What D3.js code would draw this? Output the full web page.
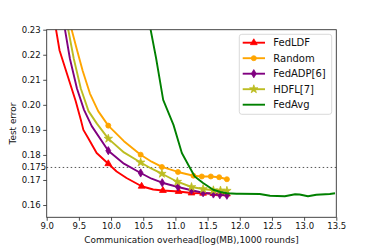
<!DOCTYPE html>
<html>
<head>
<meta charset="utf-8">
<script src="https://cdn.jsdelivr.net/npm/d3@7"></script>
<style>
  body { margin: 0; background: #fff; }
  svg { display: block; font-family: "DejaVu Sans", sans-serif; }
</style>
</head>
<body>
<div id="chart"></div>
<script>
// series names (legend order)
var names = ["FedLDF", "Random", "FedADP[6]", "HDFL[7]", "FedAvg"];

// curves: [overhead, test error]
var fedLDF = [[9.13,0.235],[9.145,0.23],[9.20,0.2217],[9.33,0.2112],[9.45,0.2015],[9.53,0.194],[9.57,0.19],[9.646,0.1867],
  [9.776,0.1808],[9.957,0.1765],[10.087,0.1734],[10.24,0.1708],[10.475,0.1675],[10.655,0.1662],[10.806,0.1658],
  [11.05,0.1654],[11.25,0.1648],[11.43,0.1647],[11.59,0.1646],[11.69,0.1645],[11.80,0.1644]];
var random = [[9.37,0.235],[9.388,0.23],[9.47,0.222],[9.56,0.2135],[9.672,0.2045],[9.80,0.1975],[9.957,0.1917],
  [10.2,0.1855],[10.46,0.1801],[10.63,0.1773],[10.79,0.1752],[11.04,0.1732],[11.28,0.1717],[11.41,0.1714],
  [11.55,0.1714],[11.68,0.1711],[11.80,0.1703]];
var fedADP = [[9.27,0.235],[9.284,0.23],[9.36,0.2185],[9.47,0.2065],[9.58,0.198],[9.70,0.1915],[9.957,0.1817],
  [10.2,0.1765],[10.46,0.1728],[10.63,0.1705],[10.795,0.1689],[11.04,0.1672],[11.25,0.1659],[11.43,0.1649],
  [11.59,0.1644],[11.69,0.1641],[11.80,0.1639]];
var hdfl = [[9.32,0.235],[9.335,0.23],[9.42,0.2185],[9.53,0.2065],[9.65,0.1975],[9.78,0.1925],[9.957,0.1865],
  [10.2,0.181],[10.46,0.177],[10.63,0.1745],[10.79,0.1725],[11.03,0.1693],[11.25,0.1672],[11.43,0.1664],
  [11.59,0.1659],[11.70,0.1658],[11.80,0.1657]];
var fedAvg = [[10.60,0.235],[10.615,0.23],[10.70,0.2186],[10.81,0.202],[10.97,0.192],[11.10,0.1808],[11.214,0.1754],
  [11.30,0.1714],[11.43,0.1688],[11.587,0.1661],[11.70,0.1652],[11.80,0.1647],[11.95,0.1645],[12.0,0.1645],
  [12.31,0.1644],[12.47,0.1637],[12.70,0.1635],[12.86,0.1643],[12.93,0.1642],[13.06,0.1635],[13.19,0.1641],
  [13.40,0.1644],[13.48,0.1647]];

// which points carry a marker
var markIdx = [
  [9, 12, 14, 15, 16, 17, 18, 19, 20],
  [6, 8, 10, 11, 12, 13, 14, 15, 16],
  [6, 8, 10, 11, 12, 13, 14, 15, 16],
  [6, 8, 10, 11, 12, 13, 14, 15, 16],
  []
];

var xTicks = [9.0, 9.5, 10.0, 10.5, 11.0, 11.5, 12.0, 12.5, 13.0, 13.5];
var yTicks = [0.16, 0.17, 0.18, 0.19, 0.20, 0.21, 0.22, 0.23];
var refLine = 0.175;

var allSeries = [fedLDF, random, fedADP, hdfl, fedAvg];
var colors = ["#ff0000", "#ffa500", "#800080", "#bcbd22", "#008000"];

// thin diamond like matplotlib "d"
var thinDiamond = {
  draw: function(ctx, size) {
    var h = Math.sqrt(size) * 0.75, w = h * 0.6;
    ctx.moveTo(0, -h); ctx.lineTo(w, 0); ctx.lineTo(0, h); ctx.lineTo(-w, 0); ctx.closePath();
  }
};
var symbols = [d3.symbolTriangle, d3.symbolCircle, thinDiamond, d3.symbolStar, null];
var symSizes = [20, 20, 30, 22, 0];

var svgWidth = 374, svgHeight = 249;
var margin = { top: 29.7, right: 37.7, bottom: 31.7, left: 46.7 };
var width = svgWidth - margin.left - margin.right;
var height = svgHeight - margin.top - margin.bottom;

var svg = d3.select("#chart").append("svg")
  .attr("width", svgWidth).attr("height", svgHeight);

var g = svg.append("g").attr("transform", `translate(${margin.left},${margin.top})`);

var x = d3.scaleLinear().domain([9.0, 13.5]).range([0, width]);
var y = d3.scaleLinear().domain([0.1551, 0.23]).range([height, 0]);

svg.append("defs").append("clipPath").attr("id", "clip")
  .append("rect").attr("width", width).attr("height", height);

// reference line
g.append("line")
  .attr("x1", 0).attr("x2", width)
  .attr("y1", y(refLine)).attr("y2", y(refLine))
  .attr("stroke", "#555").attr("stroke-width", 1).attr("stroke-dasharray", "1.5,2.5");

var line = d3.line().x(d => x(d[0])).y(d => y(d[1]));
var plot = g.append("g").attr("clip-path", "url(#clip)");

allSeries.forEach(function(s, i) {
  plot.append("path").datum(s)
    .attr("fill", "none").attr("stroke", colors[i]).attr("stroke-width", 1.9)
    .attr("stroke-linejoin", "round").attr("d", line);
  if (symbols[i]) {
    var sym = d3.symbol().type(symbols[i]).size(symSizes[i]);
    plot.selectAll(null).data(markIdx[i].map(k => s[k])).enter()
      .append("path")
      .attr("transform", d => `translate(${x(d[0])},${y(d[1])})`)
      .attr("d", sym).attr("fill", colors[i]).attr("stroke", colors[i]).attr("stroke-width", 0.8);
  }
});

// axes
var xAxis = g.append("g").attr("transform", `translate(0,${height})`)
  .call(d3.axisBottom(x).tickValues(xTicks).tickFormat(d3.format(".1f")).tickSize(3.5).tickPadding(2.5));
var yAxis = g.append("g")
  .call(d3.axisLeft(y).tickValues(yTicks).tickFormat(d3.format(".2f")).tickSize(3.5).tickPadding(2.5));
[xAxis, yAxis].forEach(function(a) {
  a.select(".domain").remove();
  a.selectAll("line").attr("stroke", "#222").attr("stroke-width", 0.8);
  a.selectAll("text").attr("font-size", "8.5px").attr("fill", "#111")
    .attr("font-family", "DejaVu Sans, sans-serif");
});

// extra 0.175 label
g.append("text")
  .attr("x", 21.7 - margin.left).attr("y", y(refLine)).attr("dy", "0.32em")
  .attr("font-size", "8.5px").attr("fill", "#111").text("0.175");

// frame
g.append("rect").attr("width", width).attr("height", height)
  .attr("fill", "none").attr("stroke", "#333").attr("stroke-width", 0.9);

// axis titles
svg.append("text")
  .attr("x", margin.left + width / 2).attr("y", 243)
  .attr("text-anchor", "middle").attr("font-size", "8.9px").attr("fill", "#111")
  .text("Communication overhead[log(MB),1000 rounds]");
svg.append("text")
  .attr("transform", `translate(16,${margin.top + height / 2}) rotate(-90)`)
  .attr("text-anchor", "middle").attr("font-size", "8.9px").attr("fill", "#111")
  .text("Test error");

// legend
var lg = svg.append("g").attr("transform", "translate(239.3,34.3)");
lg.append("rect").attr("width", 92.4).attr("height", 80).attr("rx", 2.5)
  .attr("fill", "#fff").attr("fill-opacity", 0.85).attr("stroke", "#d0d0d0").attr("stroke-width", 0.8);
names.forEach(function(n, i) {
  var yy = 8.4 + i * 15.5;
  lg.append("line").attr("x1", 3.4).attr("x2", 25.7).attr("y1", yy).attr("y2", yy)
    .attr("stroke", colors[i]).attr("stroke-width", 1.9);
  if (symbols[i]) {
    lg.append("path").attr("transform", `translate(14.5,${yy})`)
      .attr("d", d3.symbol().type(symbols[i]).size(symSizes[i]))
      .attr("fill", colors[i]).attr("stroke", colors[i]).attr("stroke-width", 0.8);
  }
  lg.append("text").attr("x", 34).attr("y", yy).attr("dy", "0.36em")
    .attr("font-size", "10px").attr("fill", "#111").text(n);
});
</script>
</body>
</html>
